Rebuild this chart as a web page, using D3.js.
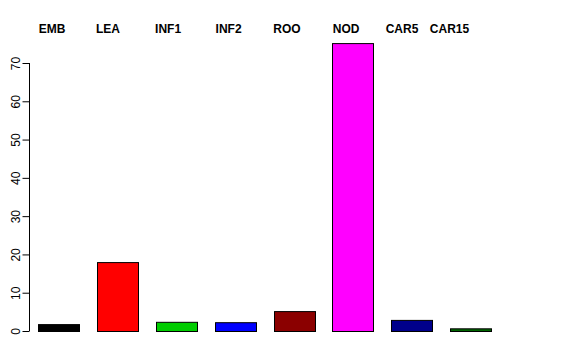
<!DOCTYPE html>
<html>
<head>
<meta charset="utf-8">
<script src="https://cdn.jsdelivr.net/npm/d3@7"></script>
<style>
  html, body { margin: 0; padding: 0; background: #fff; }
  svg { display: block; }
  text { font-family: "Liberation Sans", Arial, Helvetica, sans-serif; }
</style>
</head>
<body>
<div id="chart"></div>
<script>
// ---- data ----
const categories = ["EMB", "LEA", "INF1", "INF2", "ROO", "NOD", "CAR5", "CAR15"];
const values = [1.8, 18.0, 2.4, 2.3, 5.2, 75.2, 2.9, 0.7];
const colors = ["#000000", "#FF0000", "#00CD00", "#0000FF", "#8B0000", "#FF00FF", "#00008B", "#006400"];
const labelPos = [0.73, 2.06, 3.49, 4.93, 6.32, 7.73, 9.06, 10.19]; // label centres in bar units
const yTicks = [0, 10, 20, 30, 40, 50, 60, 70];

// ---- layout ----
const W = 576, H = 360;
const svg = d3.select("#chart").append("svg").attr("width", W).attr("height", H);

// bar positions in R barplot units: left = 0.4 + 1.4*i, width 1
const x = d3.scaleLinear().domain([0, 1]).range([21.5, 63.5]);
const y = d3.scaleLinear().domain([0, 70]).range([331, 63]);

const bars = categories.map((c, i) => ({ c, v: values[i], col: colors[i], left: 0.4 + 1.4 * i }));

svg.append("g").selectAll("rect").data(bars).join("rect")
  .attr("x", d => Math.round(x(d.left)) + 0.5)
  .attr("y", d => y(d.v) + 0.5)
  .attr("width", d => x(d.left + 1) - x(d.left) - 1)
  .attr("height", d => y(0) - y(d.v))
  .attr("fill", d => d.col)
  .attr("stroke", "#000")
  .attr("stroke-width", 1);

// y axis
const yAxis = d3.axisLeft(y).tickValues(yTicks).tickSize(7).tickPadding(3).tickSizeOuter(0);
const gy = svg.append("g").attr("transform", "translate(29.5,0)").call(yAxis);
gy.select(".domain").attr("stroke", "#000").attr("d", `M0,${y(0)}V${y(70)}`);
gy.selectAll(".tick line").attr("stroke", "#000");
gy.selectAll(".tick text")
  .attr("font-size", 12)
  .attr("fill", "#000")
  .attr("text-anchor", "middle")
  .attr("dy", null)
  .attr("x", null)
  .attr("transform", "translate(-10,0) rotate(-90)");

// top labels
svg.append("g").selectAll("text").data(categories).join("text")
  .attr("x", (d, i) => x(labelPos[i]))
  .attr("y", 33)
  .attr("text-anchor", "middle")
  .attr("font-size", 12)
  .attr("font-weight", "bold")
  .attr("fill", "#000")
  .text(d => d);
</script>
</body>
</html>
